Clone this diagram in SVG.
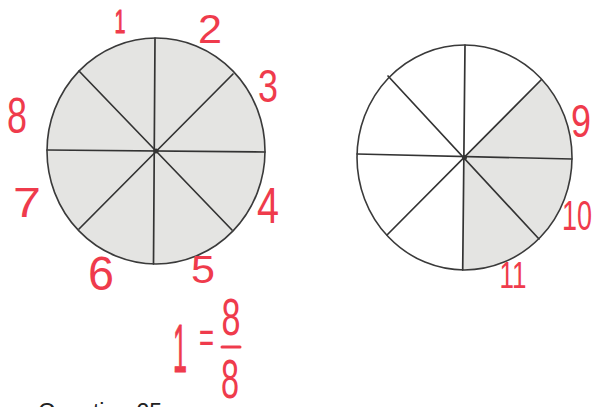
<svg xmlns="http://www.w3.org/2000/svg" width="595" height="407" viewBox="0 0 595 407">
<style>
.edge{fill:none;stroke:#3a3a3a;stroke-width:1.6}
.div{stroke:#333;stroke-width:1.7;stroke-linecap:round}
.shade{fill:#e4e4e2}
.num{font-family:"Liberation Sans","DejaVu Sans",sans-serif;fill:#ef3b4c;text-anchor:middle}
.one{stroke:#ef3b4c;stroke-width:1;stroke-linejoin:round}
.q{font-family:"Liberation Sans","DejaVu Sans",sans-serif;font-size:23px;fill:#222}
</style>
<rect width="595" height="407" fill="#ffffff"/>
<g id="circle-left">
  <ellipse class="shade" cx="156" cy="151" rx="109" ry="113"/>
  <line class="div" x1="155" y1="38" x2="153.5" y2="264"/>
  <line class="div" x1="47" y1="150" x2="265" y2="152"/>
  <line class="div" x1="79" y1="71" x2="232" y2="230"/>
  <line class="div" x1="233" y1="74" x2="79" y2="229"/>
  <ellipse class="edge" cx="156" cy="151" rx="109" ry="113"/>
  <circle cx="156" cy="151" r="2.5" fill="#333"/>
</g>
<g id="circle-right">
  <path class="shade" d="M464.5,157.5 L541.5,79.5 A107.5,112.5 0 0 1 462.7,270 Z"/>
  <line class="div" x1="465" y1="45" x2="462.7" y2="270"/>
  <line class="div" x1="357" y1="154" x2="572" y2="159"/>
  <line class="div" x1="388" y1="76" x2="539" y2="239"/>
  <line class="div" x1="541.5" y1="79.5" x2="387" y2="235"/>
  <ellipse class="edge" cx="464.5" cy="157.5" rx="107.5" ry="112.5"/>
  <circle cx="464.5" cy="157.5" r="2.5" fill="#333"/>
</g>
<g id="labels-left">
  <text class="num one" x="120" y="33" font-size="34" textLength="11" lengthAdjust="spacingAndGlyphs">1</text>
  <text class="num" x="210" y="43" font-size="40" textLength="24" lengthAdjust="spacingAndGlyphs">2</text>
  <text class="num" x="268" y="102" font-size="46" textLength="20" lengthAdjust="spacingAndGlyphs">3</text>
  <text class="num" x="17" y="133" font-size="50" textLength="20" lengthAdjust="spacingAndGlyphs">8</text>
  <text class="num" x="27" y="217" font-size="42" textLength="28" lengthAdjust="spacingAndGlyphs">7</text>
  <text class="num" x="268" y="223" font-size="50" textLength="22" lengthAdjust="spacingAndGlyphs">4</text>
  <text class="num" x="101" y="290" font-size="48" textLength="26" lengthAdjust="spacingAndGlyphs">6</text>
  <text class="num" x="203" y="283" font-size="39" textLength="24" lengthAdjust="spacingAndGlyphs">5</text>
</g>
<g id="labels-right">
  <text class="num" x="581" y="137" font-size="47" textLength="20" lengthAdjust="spacingAndGlyphs">9</text>
  <text class="num" x="577" y="230" font-size="42" textLength="30" lengthAdjust="spacingAndGlyphs">10</text>
  <text class="num" x="513" y="288" font-size="36" textLength="27" lengthAdjust="spacingAndGlyphs">11</text>
</g>
<g id="equation">
  <text class="num one" x="180" y="372" font-size="68" textLength="14" lengthAdjust="spacingAndGlyphs">1</text>
  <text class="num" x="206.5" y="353" font-size="44" textLength="15" lengthAdjust="spacingAndGlyphs">=</text>
  <text class="num" x="231" y="335" font-size="52" textLength="19" lengthAdjust="spacingAndGlyphs">8</text>
  <line x1="222" y1="347" x2="240" y2="347" stroke="#ef3b4c" stroke-width="3" stroke-linecap="round"/>
  <text class="num" x="230" y="398" font-size="56" textLength="18" lengthAdjust="spacingAndGlyphs">8</text>
</g>
<text class="q" x="38" y="420">Question 25</text>
</svg>
